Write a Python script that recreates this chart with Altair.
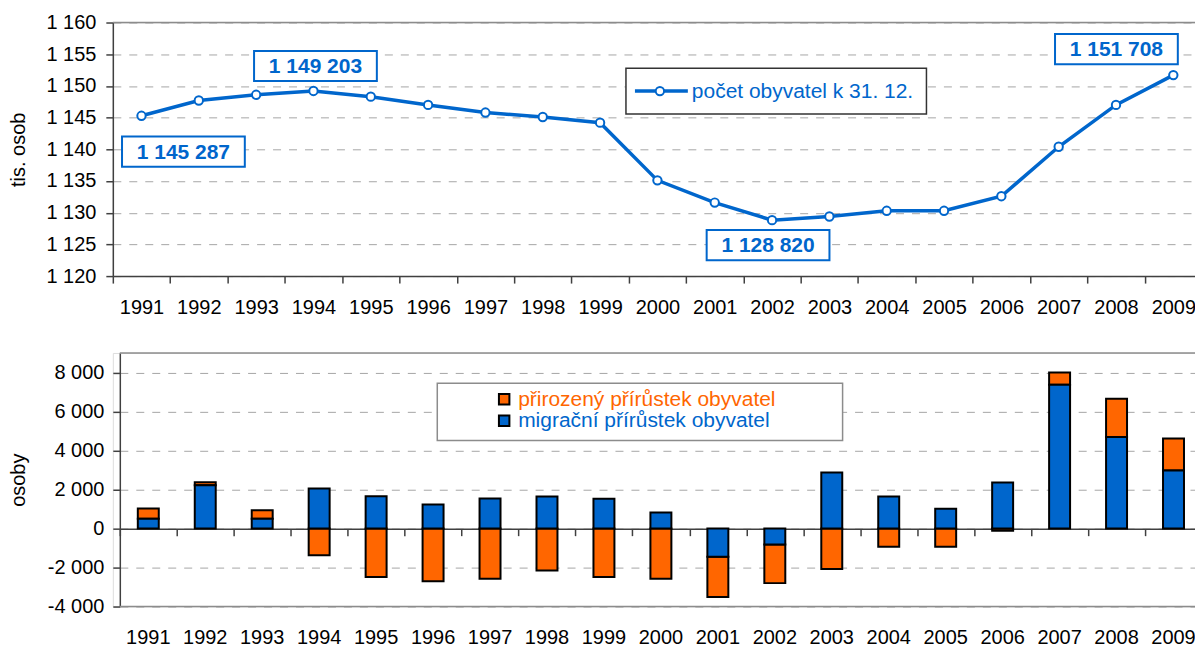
import altair as alt
import pandas as pd

# ---------------- data ----------------
years = [str(y) for y in range(1991, 2010)]
population = [1145.287, 1147.7, 1148.6, 1149.203, 1148.3, 1147.0, 1145.8, 1145.1,
              1144.2, 1135.1, 1131.6, 1128.820, 1129.4, 1130.3, 1130.3, 1132.6,
              1140.4, 1147.0, 1151.708]
natural = [520, 150, 440, -1370, -2490, -2700, -2580, -2150, -2490, -2580,
           -2060, -1980, -2080, -940, -940, -120, 630, 1960, 1640]
migration = [500, 2220, 500, 2050, 1650, 1230, 1540, 1640, 1520, 820,
             -1450, -820, 2870, 1640, 1010, 2360, 7370, 4690, 2970]
annot_years = ["1991", "1994", "2002", "2009"]
annot_values = [1145287, 1149203, 1128820, 1151708]
line_name = "počet obyvatel k 31. 12."
s_nat = "přirozený přírůstek obyvatel"
s_mig = "migrační přírůstek obyvatel"
top_ticks = [1120, 1125, 1130, 1135, 1140, 1145, 1150, 1155, 1160]
bot_ticks = [-4000, -2000, 0, 2000, 4000, 6000, 8000]
top_title = "tis. osob"
bot_title = "osoby"

# ---------------- style ----------------
BLUE = "#0066CC"
ORANGE = "#FF6600"
AXIS = "#404040"
GRID = "#A6A6A6"
FRAME = "#8C8C8C"
FONT = "Liberation Sans"
FS = 20
LFS = 21
W = 1091
H1 = 254
H2 = 254
DASH = [8, 8]
one = pd.DataFrame({"k": [0]})

# ---------------- top chart ----------------
pop_df = pd.DataFrame({"year": years, "pop": population})
ann_df = pd.DataFrame({"year": annot_years,
                       "pop": [v / 1000 for v in annot_values],
                       "raw": annot_values})

xs_top = alt.Scale(domain=years, paddingInner=0, paddingOuter=0)
ys_top = alt.Scale(domain=[1120, 1160], nice=False, zero=False)

x_top_axis = alt.Axis(labelAngle=0, tickBand="extent", tickSize=7,
                      tickColor=AXIS, tickWidth=1.5, domainColor=AXIS,
                      domainWidth=1.5, labelPadding=14, labelFontSize=FS,
                      labelColor="black", labelFont=FONT, labelOverlap=False)
y_top_axis = alt.Axis(values=top_ticks, tickSize=7, tickColor=AXIS,
                      tickWidth=1.5, domainColor=AXIS, domainWidth=1.5,
                      labelPadding=10, labelFontSize=FS, labelColor="black",
                      labelFont=FONT, labelOverlap=False, labelBound=False,
                      labelExpr="replace(format(datum.value, ','), ',', ' ')",
                      grid=True, gridDash=DASH, gridColor=GRID,
                      title=top_title, titleFontSize=FS, titleFont=FONT,
                      titleFontWeight="normal", titleColor="black",
                      titleX=-94, titleY=H1 / 2, titleBaseline="middle")
x_top = alt.X("year:N", scale=xs_top, title=None, axis=x_top_axis)
y_top = alt.Y("pop:Q", scale=ys_top, title=top_title, axis=y_top_axis)

base_top = alt.Chart(pop_df).encode(x=x_top, y=y_top)
line = base_top.mark_line(color=BLUE, strokeWidth=3.5)
pts = base_top.mark_point(shape="circle", size=70, filled=True, fill="white",
                          stroke=BLUE, strokeWidth=2, opacity=1)
top_frame = alt.Chart(one).mark_rule(color=FRAME, strokeWidth=1.5).encode(
    y=alt.YDatum(1160, scale=ys_top, axis=y_top_axis, title=top_title),
    x=alt.value(0), x2=alt.value(W))

BOX_PATH = "M-1,-0.246H1V0.246H-1Z"
offsets = {"1991": (42, 36), "1994": (2, -25), "2002": (-4, 25), "2009": (-57, -26)}
ann_layers = []
for yr in annot_years:
    dx, dy = offsets[yr]
    b = alt.Chart(ann_df).transform_filter(alt.datum.year == yr).transform_calculate(
        lbl="replace(replace(format(datum.raw, ','), ',', ' '), ',', ' ')"
    ).encode(x=x_top, y=y_top)
    ann_layers.append(b.mark_point(shape=BOX_PATH, size=123 ** 2, filled=True,
                                   fill="white", stroke=BLUE, strokeWidth=2,
                                   opacity=1, xOffset=dx, yOffset=dy))
    ann_layers.append(b.mark_text(font=FONT, fontSize=LFS, fontWeight="bold",
                                  color=BLUE, dx=dx, dy=dy + 1, align="center",
                                  baseline="middle").encode(text="lbl:N"))

leg_box = alt.Chart(one).mark_rect(fill="white", stroke="#333333", strokeWidth=1.5).encode(
    x=alt.value(514), x2=alt.value(815), y=alt.value(45.7), y2=alt.value(91.7))
leg_line = alt.Chart(one).mark_rule(color=BLUE, strokeWidth=3.5).encode(
    x=alt.value(523), x2=alt.value(576), y=alt.value(68.7))
leg_pt = alt.Chart(one).mark_point(shape="circle", size=70, filled=True, fill="white",
                                   stroke=BLUE, strokeWidth=2, opacity=1).encode(
    x=alt.value(548), y=alt.value(68.7))
leg_txt = alt.Chart(one).mark_text(font=FONT, fontSize=LFS, color=BLUE, align="left",
                                   baseline="middle", text=line_name).encode(
    x=alt.value(580), y=alt.value(69.5))

top = alt.layer(line, top_frame, pts, *ann_layers, leg_box, leg_line, leg_pt, leg_txt
                ).properties(width=W, height=H1)

# ---------------- bottom chart ----------------
bar_df = pd.DataFrame({"year": years * 2,
                       "series": [s_nat] * len(years) + [s_mig] * len(years),
                       "value": natural + migration})

xs_bot = alt.Scale(domain=years, range=[7, W], paddingInner=0, paddingOuter=0)
ys_bot = alt.Scale(domain=[-4000, 9000], nice=False, zero=False)

y_bot_axis = alt.Axis(values=bot_ticks, offset=-7, tickSize=7, tickColor=AXIS,
                      tickWidth=1.5, domainColor=AXIS, domainWidth=1.5,
                      labelPadding=9, labelFontSize=FS, labelColor="black",
                      labelFont=FONT, labelOverlap=False, labelBound=False,
                      labelExpr="replace(replace(format(datum.value, ','), ',', ' '), '\u2212', '-')",
                      grid=True, gridDash=DASH, gridColor=GRID,
                      title=bot_title, titleFontSize=FS, titleFont=FONT,
                      titleFontWeight="normal", titleColor="black",
                      titleX=-101, titleY=H2 / 2, titleBaseline="middle")
y_bot = alt.Y("value:Q", scale=ys_bot, stack="zero", title=bot_title, axis=y_bot_axis)

bars = alt.Chart(bar_df).transform_calculate(
    ord=f"datum.series == '{s_mig}' ? 0 : 1"
).mark_bar(size=21, stroke="black", strokeWidth=2).encode(
    x=alt.X("year:N", scale=xs_bot, title=None,
            axis=alt.Axis(orient="bottom", labelAngle=0, domain=False, ticks=False,
                          tickSize=0, labelPadding=21, labelFontSize=FS,
                          labelColor="black", labelFont=FONT, labelOverlap=False)),
    y=y_bot,
    color=alt.Color("series:N", scale=alt.Scale(domain=[s_nat, s_mig],
                                                range=[ORANGE, BLUE]), legend=None),
    order=alt.Order("ord:Q", sort="ascending"),
)

zero_axis = alt.Chart(pd.DataFrame({"year": years})).mark_tick(opacity=0).encode(
    x=alt.X("year:N", scale=xs_bot, title=None,
            axis=alt.Axis(orient="bottom", offset=-78, labels=False, tickBand="extent",
                          tickSize=7, tickColor=AXIS, tickWidth=1.5,
                          domainColor=AXIS, domainWidth=1.5)),
    y=alt.YDatum(0, scale=ys_bot, axis=y_bot_axis, title=bot_title),
)

bot_top_frame = alt.Chart(one).mark_rule(color=FRAME, strokeWidth=1.5).encode(
    y=alt.YDatum(9000, scale=ys_bot, axis=y_bot_axis, title=bot_title),
    x=alt.value(7), x2=alt.value(W))
bot_low_frame = alt.Chart(one).mark_rule(color=FRAME, strokeWidth=1.5).encode(
    y=alt.YDatum(-4000, scale=ys_bot, axis=y_bot_axis, title=bot_title),
    x=alt.value(7), x2=alt.value(W))

bleg_box = alt.Chart(one).mark_rect(fill="white", stroke=FRAME, strokeWidth=1.5).encode(
    x=alt.value(325), x2=alt.value(731), y=alt.value(30.3), y2=alt.value(87.8))
bleg = [bleg_box]
for i, (name, col) in enumerate([(s_nat, ORANGE), (s_mig, BLUE)]):
    yy = 46.3 + i * 21.5
    bleg.append(alt.Chart(one).mark_point(shape="square", size=110, filled=True,
                                          fill=col, stroke="black", strokeWidth=2,
                                          opacity=1).encode(
        x=alt.value(392), y=alt.value(yy)))
    bleg.append(alt.Chart(one).mark_text(font=FONT, fontSize=LFS, color=col,
                                         align="left", baseline="middle",
                                         text=name).encode(
        x=alt.value(406), y=alt.value(yy + 0.8)))

bottom = alt.layer(bars, bot_top_frame, bot_low_frame, zero_axis, *bleg
                   ).resolve_axis(x="independent").properties(width=W, height=H2)

chart = alt.vconcat(top, bottom, spacing=33).properties(
    padding={"left": 0, "top": 3, "right": -9, "bottom": 0}
).configure_view(stroke=None).configure(font=FONT)

chart.save("out.html", embed_options={"renderer": "svg", "actions": False})
